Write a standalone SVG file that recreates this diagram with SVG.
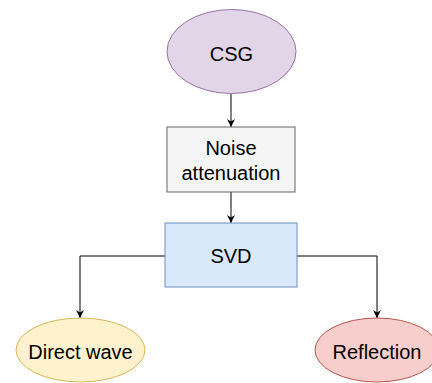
<svg xmlns="http://www.w3.org/2000/svg" width="432" height="383" viewBox="0 0 432 383">
<defs>
<marker id="arr" viewBox="0 0 10 10" refX="10" refY="5" markerWidth="8" markerHeight="8" markerUnits="userSpaceOnUse" orient="auto">
<path d="M0,0 L10,5 L0,10 L3,5 Z" fill="#000"/>
</marker>
</defs>
<style>
text{font-family:"Liberation Sans",Arial,sans-serif;font-size:20px;fill:#000;text-anchor:middle}
.conn{fill:none;stroke:#000;stroke-width:1;marker-end:url(#arr)}
</style>
<rect width="432" height="383" fill="#fff"/>
<g id="connectors">
<path class="conn" d="M231,94 V127"/>
<path class="conn" d="M231,192 V223"/>
<path class="conn" d="M165,256 H80 V318"/>
<path class="conn" d="M297,256 H377 V318"/>
</g>
<g id="csg">
<ellipse cx="231.5" cy="51.5" rx="64.5" ry="42" fill="#e1d5e7" stroke="#9673a6"/>
<text x="231.5" y="61">CSG</text>
</g>
<g id="noise">
<rect x="167" y="127" width="128" height="65" fill="#f5f5f5" stroke="#666"/>
<text x="231" y="155">Noise</text>
<text x="231" y="180">attenuation</text>
</g>
<g id="svd">
<rect x="165" y="223" width="132" height="64" fill="#dae8fc" stroke="#6c8ebf"/>
<text x="231" y="263">SVD</text>
</g>
<g id="direct">
<ellipse cx="80.5" cy="350" rx="64.5" ry="32" fill="#fff2cc" stroke="#d6b656"/>
<text x="80.5" y="359">Direct wave</text>
</g>
<g id="reflection">
<ellipse cx="377" cy="350" rx="62" ry="32" fill="#f8cecc" stroke="#b85450"/>
<text x="377" y="359">Reflection</text>
</g>
</svg>
